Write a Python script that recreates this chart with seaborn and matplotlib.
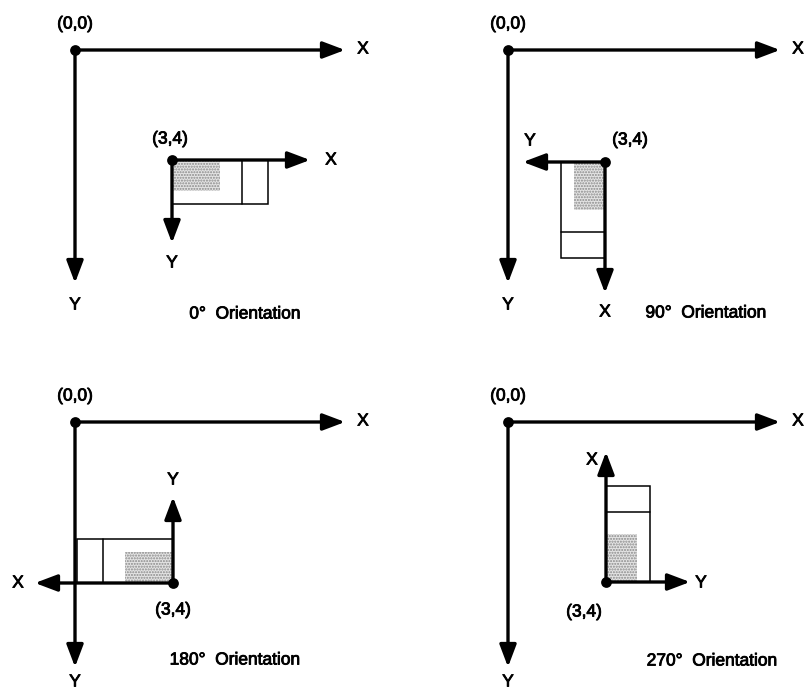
import numpy as np
import pandas as pd
import matplotlib.pyplot as plt
import matplotlib.patches as mpatches
import matplotlib.patheffects as pe
import seaborn as sns

# orientation of the small box frame, one per panel
orientations = [0, 90, 180, 270]
captions = ["0\u00b0  Orientation", "90\u00b0  Orientation",
            "180\u00b0  Orientation", "270\u00b0  Orientation"]
origin_label = "(0,0)"
point_label = "(3,4)"

# page frame of each panel (pixels, y grows downwards)
frame_x = [75, 508, 75, 508]
frame_y = [50, 50, 422, 422]
frame_x_len = [270, 272, 270, 272]
frame_y_len = [233, 233, 245, 245]

# the (3,4) point and the length of its local axes
local_x = [172, 605, 173, 606]
local_y = [160, 162, 583, 582]
local_x_len = [138, 131, 138, 130]
local_y_len = [83, 82, 86, 84]

# the box in its own frame: length along X, width along Y
box_len, box_wid, box_split = 96, 44, 70
shade_len, shade_wid = 48, 31


def to_page(ox, oy, theta, u, v):
    t = np.deg2rad(theta)
    return ox + u * np.cos(t) - v * np.sin(t), oy + u * np.sin(t) + v * np.cos(t)


def arrow(ax, start, end, lw=2.4):
    ax.annotate("", xy=end, xytext=start,
                arrowprops=dict(arrowstyle="-|>,head_length=0.9,head_width=0.34",
                                mutation_scale=15, lw=lw, color="black",
                                shrinkA=0, shrinkB=0))


sns.set_style("white")
plt.rcParams["font.family"] = ["Liberation Sans", "DejaVu Sans"]

fig = plt.figure(figsize=(8.05, 6.93), dpi=100)
ax = fig.add_axes([0, 0, 1, 1])
ax.set_xlim(0, 805)
ax.set_ylim(693, 0)
ax.axis("off")

fs = 12.5
txt = dict(fontsize=fs, ha="center", va="center", color="black",
           path_effects=[pe.withStroke(linewidth=0.6, foreground="black")])

# label positions for the local axes and the (3,4) text
loc_x_lab = [(331, 160), (605, 312), (18, 583), (592, 460)]
loc_y_lab = [(172, 263), (530, 141), (173, 480), (701, 583)]
pt_lab = [(170, 139), (630, 140), (173, 610), (584, 612)]
cap_pos = [(245, 314), (706, 313), (235, 660), (712, 661)]

for i, th in enumerate(orientations):
    fx, fy = frame_x[i], frame_y[i]
    # page axes
    arrow(ax, (fx, fy), (fx + frame_x_len[i], fy))
    arrow(ax, (fx, fy), (fx, fy + frame_y_len[i]))
    ax.text(fx, fy - 26, origin_label, **txt)
    ax.text(fx + frame_x_len[i] + 18, fy - 1, "X", **txt)
    ax.text(fx, min(fy + frame_y_len[i] + 22, 682), "Y", **txt)

    ox, oy = local_x[i], local_y[i]
    # shaded part of the box
    shade = [to_page(ox, oy, th, u, v) for u, v in
             [(0, 0), (shade_len, 0), (shade_len, shade_wid), (0, shade_wid)]]
    ax.add_patch(mpatches.Polygon(shade, closed=True, facecolor="#e4e4e4",
                                  edgecolor="#8a8a8a", hatch="......", lw=0, zorder=1))
    # box outline and divider
    box = [to_page(ox, oy, th, u, v) for u, v in
           [(0, 0), (box_len, 0), (box_len, box_wid), (0, box_wid)]]
    ax.add_patch(mpatches.Polygon(box, closed=True, fill=False,
                                  edgecolor="black", lw=1.1, zorder=2))
    d0 = to_page(ox, oy, th, box_split, 0)
    d1 = to_page(ox, oy, th, box_split, box_wid)
    ax.plot([d0[0], d1[0]], [d0[1], d1[1]], color="black", lw=1.1, zorder=2)

    # local axes
    arrow(ax, (ox, oy), to_page(ox, oy, th, local_x_len[i], 0))
    arrow(ax, (ox, oy), to_page(ox, oy, th, 0, local_y_len[i]))
    ax.text(*loc_x_lab[i], "X", **txt)
    ax.text(*loc_y_lab[i], "Y", **txt)
    ax.text(*pt_lab[i], point_label, **txt)
    ax.text(*cap_pos[i], captions[i], **txt)

dots = pd.DataFrame({"x": frame_x + local_x, "y": frame_y + local_y})
sns.scatterplot(data=dots, x="x", y="y", s=60, color="black",
                edgecolor="black", linewidth=0, ax=ax, zorder=5)
ax.set_xlim(0, 805)
ax.set_ylim(693, 0)
ax.axis("off")

fig.savefig("out.png", dpi=100)
